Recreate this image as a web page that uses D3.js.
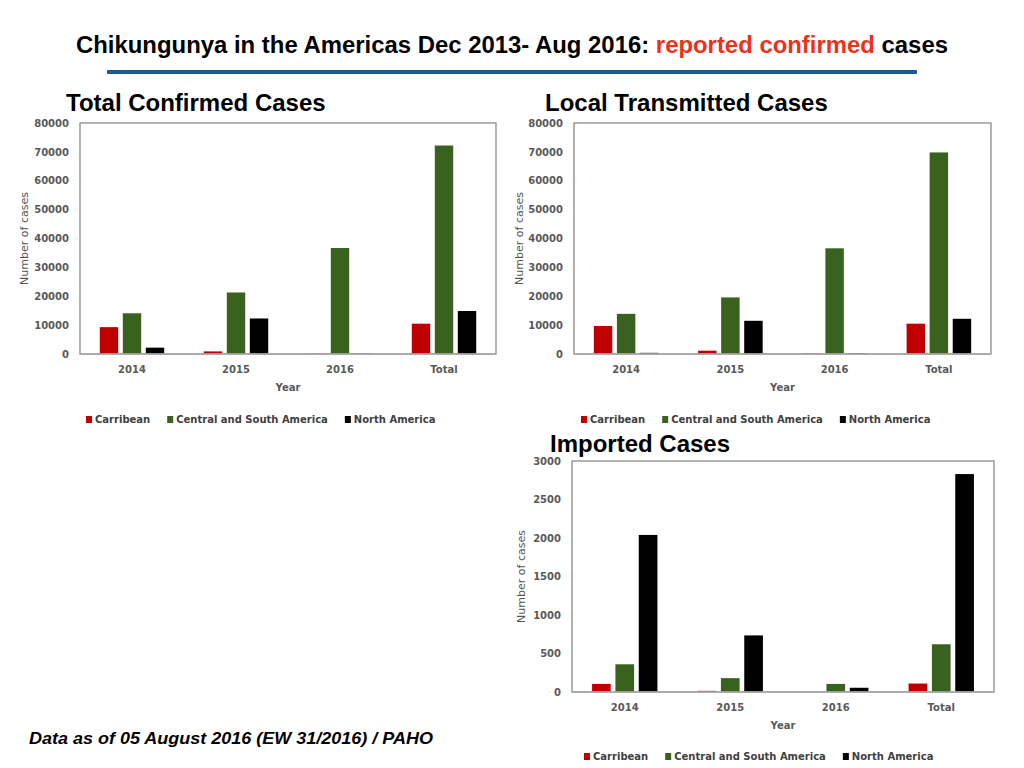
<!DOCTYPE html>
<html>
<head>
<meta charset="utf-8">
<script src="https://cdn.jsdelivr.net/npm/d3@7"></script>
<style>
  body { margin: 0; background: #fff; }
  svg { display: block; }
</style>
</head>
<body>
<script>
const YEARS = ["2014", "2015", "2016", "Total"];
const SERIES = ["Carribean", "Central and South America", "North America"];
const COLORS = ["#c00000", "#3a621f", "#000000"];

// Total confirmed
const totalCarribean = [9300, 900, 150, 10500];
const totalCSA = [14100, 21300, 36700, 72200];
const totalNA = [2200, 12300, 200, 14900];

// Local transmitted
const localCarribean = [9700, 1150, 250, 10500];
const localCSA = [13900, 19600, 36600, 69800];
const localNA = [400, 11500, 300, 12200];

// Imported
const importedCarribean = [105, 15, 0, 110];
const importedCSA = [360, 180, 105, 620];
const importedNA = [2040, 735, 55, 2830];

const TICK_FONT = "'DejaVu Sans', Verdana, sans-serif";
const HEAD_FONT = "'Liberation Sans', Arial, Helvetica, sans-serif";

const svg = d3.select("body").append("svg")
    .attr("width", 1024)
    .attr("height", 768);

// main title
const title = svg.append("text")
    .attr("x", 76)
    .attr("y", 53)
    .attr("font-family", "'Liberation Sans Narrow', 'Liberation Sans', Arial, sans-serif")
    .attr("font-weight", "bold")
    .attr("font-size", 23.5)
    .attr("textLength", 872)
    .attr("lengthAdjust", "spacingAndGlyphs");
title.append("tspan").attr("fill", "#000").text("Chikungunya in the Americas Dec 2013- Aug 2016: ");
title.append("tspan").attr("fill", "#e8341c").text("reported confirmed");
title.append("tspan").attr("fill", "#000").text(" cases");

svg.append("rect")
    .attr("x", 107).attr("y", 70)
    .attr("width", 810).attr("height", 4)
    .attr("fill", "#1d5b97");

function drawPanel(p) {
    svg.append("text")
        .attr("x", p.titleX)
        .attr("y", p.titleY)
        .attr("font-family", HEAD_FONT)
        .attr("font-weight", "bold")
        .attr("font-size", 24)
        .attr("fill", "#000")
        .text(p.title);

    const g = svg.append("g")
        .attr("transform", `translate(${p.left},${p.top})`);

    const x0 = d3.scaleBand().domain(YEARS).range([0, p.width]);
    const x1 = d3.scaleBand().domain(SERIES)
        .range([0, x0.bandwidth()])
        .paddingInner(0.2)
        .paddingOuter(0.86);
    const y = d3.scaleLinear().domain([0, p.max]).range([p.height, 0]);

    SERIES.forEach((s, i) => {
        g.selectAll(null)
            .data(p.values[i])
            .join("rect")
            .attr("x", (d, j) => x0(YEARS[j]) + x1(s))
            .attr("y", d => y(d))
            .attr("width", x1.bandwidth())
            .attr("height", d => p.height - y(d))
            .attr("fill", COLORS[i]);
    });

    // frame
    g.append("rect")
        .attr("width", p.width)
        .attr("height", p.height)
        .attr("fill", "none")
        .attr("stroke", "#8a8a8a")
        .attr("stroke-width", 1.3);
    g.append("line")
        .attr("x1", 0).attr("x2", p.width)
        .attr("y1", p.height).attr("y2", p.height)
        .attr("stroke", "#a8a8a8")
        .attr("stroke-width", 1.6);

    const yAxis = g.append("g")
        .call(d3.axisLeft(y)
            .tickValues(d3.range(0, p.max + 1, p.step))
            .tickSize(0)
            .tickPadding(11)
            .tickFormat(d3.format("d")));
    yAxis.select(".domain").remove();

    const xAxis = g.append("g")
        .attr("transform", `translate(0,${p.height})`)
        .call(d3.axisBottom(x0).tickSize(0).tickPadding(12));
    xAxis.select(".domain").remove();

    g.selectAll(".tick text")
        .attr("font-family", TICK_FONT)
        .attr("font-weight", "bold")
        .attr("font-size", 10)
        .attr("fill", "#595959");

    g.append("text")
        .attr("transform", `translate(${p.yLabelX},${p.height / 2}) rotate(-90)`)
        .attr("text-anchor", "middle")
        .attr("font-family", TICK_FONT)
        .attr("font-size", 11)
        .attr("fill", "#555")
        .text("Number of cases");

    g.append("text")
        .attr("x", p.width / 2)
        .attr("y", p.height + 37)
        .attr("text-anchor", "middle")
        .attr("font-family", TICK_FONT)
        .attr("font-weight", "bold")
        .attr("font-size", 10)
        .attr("fill", "#595959")
        .text("Year");

    // legend
    let lx = p.legendX;
    const ly = p.legendY;
    SERIES.forEach((s, i) => {
        svg.append("rect")
            .attr("x", lx).attr("y", ly - 7)
            .attr("width", 6).attr("height", 7)
            .attr("fill", COLORS[i]);
        const t = svg.append("text")
            .attr("x", lx + 9)
            .attr("y", ly)
            .attr("font-family", TICK_FONT)
            .attr("font-weight", "bold")
            .attr("font-size", 10)
            .attr("fill", "#404040")
            .text(s);
        lx += 9 + t.node().getComputedTextLength() + 17;
    });
}

drawPanel({
    title: "Total Confirmed Cases", titleX: 66, titleY: 111,
    left: 80, top: 123, width: 416, height: 231,
    max: 80000, step: 10000, yLabelX: -52,
    legendX: 86, legendY: 423,
    values: [totalCarribean, totalCSA, totalNA]
});

drawPanel({
    title: "Local Transmitted Cases", titleX: 545, titleY: 111,
    left: 574, top: 123, width: 417, height: 231,
    max: 80000, step: 10000, yLabelX: -51,
    legendX: 581, legendY: 423,
    values: [localCarribean, localCSA, localNA]
});

drawPanel({
    title: "Imported Cases", titleX: 550, titleY: 452,
    left: 572, top: 461, width: 422, height: 231,
    max: 3000, step: 500, yLabelX: -47,
    legendX: 584, legendY: 760,
    values: [importedCarribean, importedCSA, importedNA]
});

svg.append("text")
    .attr("x", 29)
    .attr("y", 744)
    .attr("font-family", HEAD_FONT)
    .attr("font-weight", "bold")
    .attr("font-style", "italic")
    .attr("font-size", 17)
    .attr("textLength", 404)
    .attr("lengthAdjust", "spacingAndGlyphs")
    .attr("fill", "#000")
    .text("Data as of 05 August 2016 (EW 31/2016) / PAHO");
</script>
</body>
</html>
